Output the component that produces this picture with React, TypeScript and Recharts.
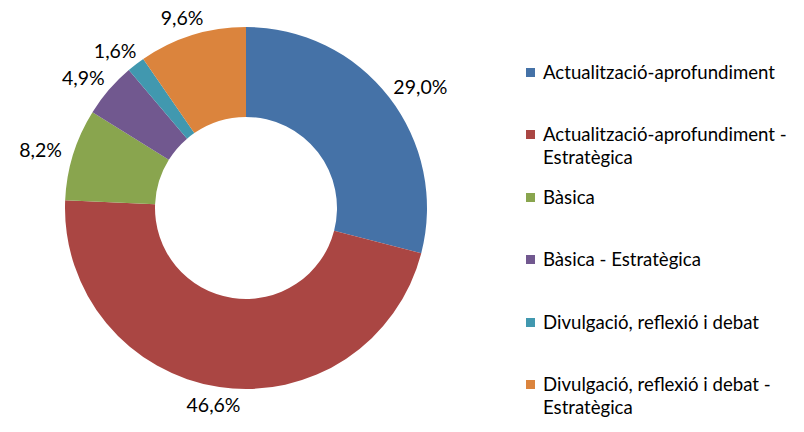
import { PieChart, Pie, Cell, Legend } from "recharts"

const categories = [
  "Actualització-aprofundiment",
  "Actualització-aprofundiment - Estratègica",
  "Bàsica",
  "Bàsica - Estratègica",
  "Divulgació, reflexió i debat",
  "Divulgació, reflexió i debat - Estratègica",
]

const shares = [29.0, 46.6, 8.2, 4.9, 1.6, 9.6]

const colors = ["#4572A7", "#AA4643", "#89A54E", "#71588F", "#4198AF", "#DB843D"]

const FONT = "Lato, 'Open Sans', sans-serif"
const RADIAN = Math.PI / 180

const data = categories.map((name, i) => ({ name, value: shares[i] }))

function formatShare(v: number) {
  return v.toFixed(1).replace(".", ",") + "%"
}

// label box sits just outside the ring, pushed away along the slice direction
function renderLabel(props: any) {
  const { cx, cy, midAngle, outerRadius, value } = props
  const dx = Math.cos(-midAngle * RADIAN)
  const dy = Math.sin(-midAngle * RADIAN)
  const r = outerRadius + 12
  const text = formatShare(value)
  const w = text.length * 11
  const h = 12
  const x = cx + r * dx + (w / 2) * dx
  const y = cy + r * dy + (h / 2) * dy
  return (
    <text
      x={x}
      y={y}
      textAnchor="middle"
      dominantBaseline="central"
      fill="#000"
      fontSize={19.5}
      fontFamily={FONT}
    >
      {text}
    </text>
  )
}

// long names wrap before their last word, like the original legend
function splitName(name: string) {
  if (name.length <= 30) return [name]
  const idx = name.lastIndexOf(" ")
  return [name.slice(0, idx), name.slice(idx + 1)]
}

function LegendBox() {
  return (
    <div style={{ fontFamily: FONT, fontSize: 18.6, color: "#000" }}>
      {categories.map((name, i) => (
        <div key={name} style={{ height: 62.4, display: "flex", alignItems: "flex-start" }}>
          <div
            style={{
              width: 9,
              height: 9,
              background: colors[i],
              marginTop: 7,
              marginRight: 8,
              flexShrink: 0,
            }}
          />
          <div style={{ lineHeight: "23px" }}>
            {splitName(name).map((line) => (
              <div key={line} style={{ whiteSpace: "nowrap" }}>
                {line}
              </div>
            ))}
          </div>
        </div>
      ))}
    </div>
  )
}

export default function App() {
  return (
    <div style={{ margin: -8, width: 804, height: 432 }}>
      <PieChart width={804} height={432} margin={{ top: 0, right: 0, bottom: 0, left: 0 }}>
        <Pie
          data={data}
          dataKey="value"
          nameKey="name"
          cx={246}
          cy={208}
          innerRadius={91}
          outerRadius={181}
          startAngle={90}
          endAngle={-270}
          stroke="none"
          label={renderLabel}
          labelLine={false}
          isAnimationActive={false}
        >
          {data.map((d, i) => (
            <Cell key={d.name} fill={colors[i]} />
          ))}
        </Pie>
        <Legend
          layout="vertical"
          content={() => <LegendBox />}
          wrapperStyle={{ left: 526, top: 61, width: 278 }}
        />
      </PieChart>
    </div>
  )
}
